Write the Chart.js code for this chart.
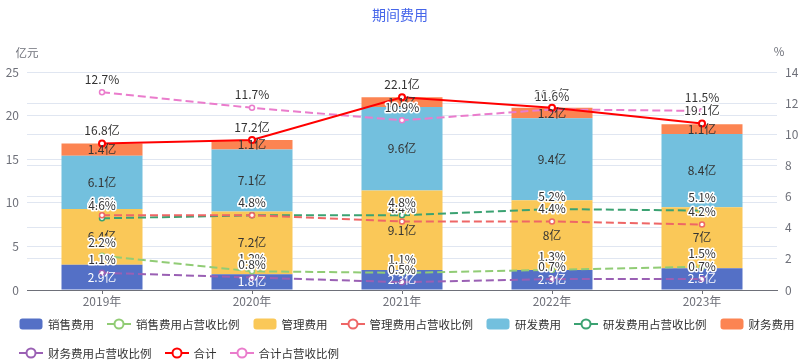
<!DOCTYPE html>
<html>
<head>
<meta charset="utf-8">
<script src="https://cdn.jsdelivr.net/npm/chart.js@4.4.1/dist/chart.umd.min.js"></script>
<style>
html, body { margin: 0; padding: 0; background: #fff; }
#wrap { position: relative; width: 800px; height: 364px; font-family: "Noto Sans CJK SC", "Noto Sans", sans-serif; }
#chart { position: absolute; left: 0; top: 0; }
.row { position: absolute; left: 19px; display: flex; align-items: center; height: 16px; gap: 13px; white-space: nowrap; }
.item { display: flex; align-items: center; gap: 5px; font-size: 11.5px; color: #333; line-height: 16px; }
.item svg { display: block; }
</style>
</head>
<body>
<div id="wrap">
  <canvas id="chart" width="800" height="364"></canvas>
  <div class="row" id="row1" style="top:316px"></div>
  <div class="row" id="row2" style="top:345px"></div>
</div>
<script>
const years = ['2019年', '2020年', '2021年', '2022年', '2023年'];
const salesExp = [2.9, 1.8, 2.3, 2.3, 2.5];
const salesRatio = [2.2, 1.2, 1.1, 1.3, 1.5];
const adminExp = [6.4, 7.2, 9.1, 8, 7];
const adminRatio = [4.8, 4.8, 4.4, 4.4, 4.2];
const rdExp = [6.1, 7.1, 9.6, 9.4, 8.4];
const rdRatio = [4.6, 4.8, 4.8, 5.2, 5.1];
const finExp = [1.4, 1.1, 1.1, 1.2, 1.1];
const finRatio = [1.1, 0.8, 0.5, 0.7, 0.7];
const totalExp = [16.8, 17.2, 22.1, 20.9, 19.1];
const totalRatio = [12.7, 11.7, 10.9, 11.6, 11.5];

const fontFamily = '"Noto Sans CJK SC", "Noto Sans", sans-serif';

const barSet = (label, data, color, textColor) => ({
    type: 'bar', label, data, backgroundColor: color, yAxisID: 'y', stack: 'cost', order: 1,
    barPercentage: 0.54, categoryPercentage: 1, labelColor: textColor, suffix: '亿'
});
const lineSet = (label, data, color, axis, dashed, suffix) => ({
    type: 'line', label, data, borderColor: color, backgroundColor: '#fff', borderWidth: 2,
    borderDash: dashed ? [8, 4] : [], pointRadius: dashed ? 2.5 : 3, pointBorderWidth: dashed ? 1.5 : 2,
    pointBackgroundColor: '#fff', pointBorderColor: color, yAxisID: axis, order: 0,
    stack: label, tension: 0, suffix
});

const datasets = [
    barSet('销售费用', salesExp, '#5470c6', '#fff'),
    lineSet('销售费用占营收比例', salesRatio, '#91cc75', 'y1', true, '%'),
    barSet('管理费用', adminExp, '#fac858', '#333'),
    lineSet('管理费用占营收比例', adminRatio, '#ee6666', 'y1', true, '%'),
    barSet('研发费用', rdExp, '#73c0de', '#333'),
    lineSet('研发费用占营收比例', rdRatio, '#3ba272', 'y1', true, '%'),
    barSet('财务费用', finExp, '#fc8452', '#333'),
    lineSet('财务费用占营收比例', finRatio, '#9a60b4', 'y1', true, '%'),
    lineSet('合计', totalExp, '#ff0000', 'y', false, '亿'),
    lineSet('合计占营收比例', totalRatio, '#ea7ccc', 'y1', true, '%')
];

// value labels + axis unit names
const valueLabels = {
    id: 'valueLabels',
    afterDatasetsDraw(chart) {
        const ctx = chart.ctx;
        ctx.save();
        ctx.font = '12px ' + fontFamily;
        ctx.textAlign = 'center';
        ctx.textBaseline = 'middle';
        chart.data.datasets.forEach((ds, i) => {
            if (ds.type !== 'bar') return;
            chart.getDatasetMeta(i).data.forEach((bar, j) => {
                ctx.fillStyle = ds.labelColor;
                ctx.fillText(ds.data[j] + ds.suffix, bar.x, (bar.y + bar.base) / 2);
            });
        });
        ctx.lineJoin = 'round';
        chart.data.datasets.forEach((ds, i) => {
            if (ds.type !== 'line') return;
            chart.getDatasetMeta(i).data.forEach((pt, j) => {
                const txt = ds.data[j] + ds.suffix;
                ctx.lineWidth = 3;
                ctx.strokeStyle = '#fff';
                ctx.strokeText(txt, pt.x, pt.y - 13);
                ctx.fillStyle = '#333';
                ctx.fillText(txt, pt.x, pt.y - 13);
            });
        });
        const area = chart.chartArea;
        ctx.font = '11.5px ' + fontFamily;
        ctx.fillStyle = '#6e7079';
        ctx.fillText('亿元', area.left, area.top - 19);
        ctx.fillText('%', area.right + 2, area.top - 20);
        ctx.restore();
    }
};

const config = {
    data: { labels: years, datasets },
    options: {
        responsive: false,
        animation: false,
        layout: { padding: { left: 0, right: 0, top: 0, bottom: 54 } },
        plugins: {
            legend: { display: false },
            tooltip: { enabled: false },
            title: {
                display: true,
                text: '期间费用',
                color: '#4565ea',
                font: { family: fontFamily, size: 14, weight: 'normal' },
                padding: { top: 6.6, bottom: 48.6 }
            }
        },
        scales: {
            x: {
                stacked: true,
                grid: { display: true, drawOnChartArea: false, offset: false, tickLength: 4, color: '#6e7079' },
                border: { display: true, color: '#6e7079' },
                ticks: { color: '#6e7079', padding: 0, font: { family: fontFamily, size: 12 } },
                afterFit(scale) { scale.height = 20; }
            },
            y: {
                stacked: true,
                position: 'left',
                min: 0, max: 25,
                ticks: { stepSize: 5, padding: 8, color: '#6e7079', font: { family: fontFamily, size: 12 } },
                grid: { color: '#e0e6f1', drawTicks: false },
                border: { display: false },
                afterFit(scale) { scale.width = 27; }
            },
            y1: {
                stacked: false,
                position: 'right',
                min: 0, max: 14,
                ticks: { stepSize: 2, padding: 8, color: '#6e7079', font: { family: fontFamily, size: 12 } },
                grid: { color: '#e0e6f1', drawTicks: false },
                border: { display: false },
                afterFit(scale) { scale.width = 23; }
            }
        }
    },
    plugins: [valueLabels]
};

const chart = new Chart(document.getElementById('chart'), config);

// legend, two rows like the original
function legendIcon(ds) {
    if (ds.type === 'bar') {
        return '<svg width="24" height="14"><rect x="0.5" y="1.5" width="23" height="11" rx="3" fill="' + ds.backgroundColor + '"/></svg>';
    }
    return '<svg width="24" height="14"><line x1="0" y1="7" x2="24" y2="7" stroke="' + ds.borderColor + '" stroke-width="2"/>' +
        '<circle cx="12" cy="7" r="4.5" fill="#fff" stroke="' + ds.borderColor + '" stroke-width="2"/></svg>';
}
datasets.forEach((ds, i) => {
    const row = document.getElementById(i < 7 ? 'row1' : 'row2');
    const item = document.createElement('div');
    item.className = 'item';
    item.innerHTML = legendIcon(ds) + '<span>' + ds.label + '</span>';
    row.appendChild(item);
});
</script>
</body>
</html>
